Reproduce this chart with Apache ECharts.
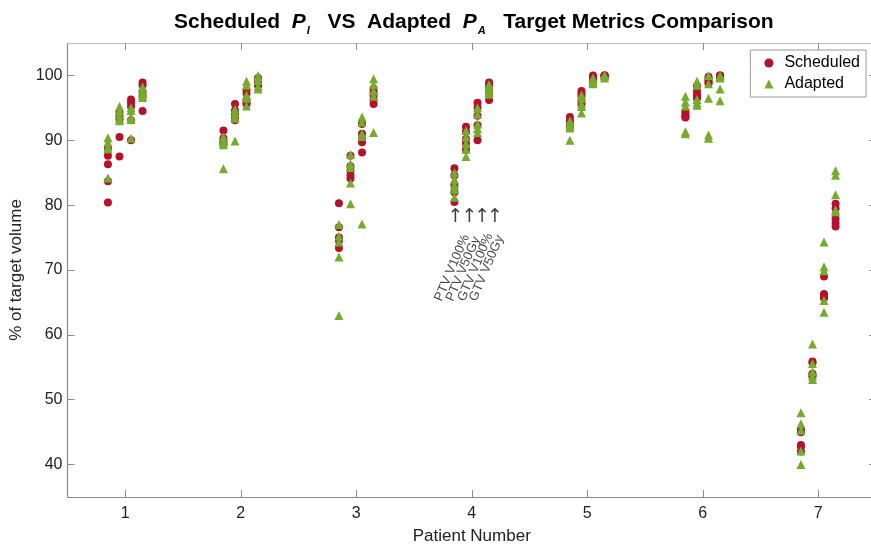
<!DOCTYPE html>
<html>
<head>
<meta charset="utf-8">
<script src="https://cdn.jsdelivr.net/npm/echarts@6/dist/echarts.min.js"></script>
<style>
html,body{margin:0;padding:0;background:#fff;}
#chart{width:871px;height:546px;}
</style>
</head>
<body>
<div id="chart"></div>
<script>
// ---- Data ----
const patients = [1, 2, 3, 4, 5, 6, 7];
const metricNames = ['PTV V100%', 'PTV V50Gy', 'GTV V100%', 'GTV V50Gy'];
const metricOffsets = [-0.15, -0.05, 0.05, 0.15];
const yTicks = [40, 50, 60, 70, 80, 90, 100];

// rows = patients 1..7, values = fractions
const scheduledPTV100 = [
  [88.8, 87.6, 86.3, 83.7, 80.4],
  [91.5, 90.3, 89.9, 89.6, 89.4],
  [80.3, 76.6, 75.0, 74.5, 73.4],
  [85.7, 84.6, 83.0, 82.0, 80.5],
  [93.6, 93.0, 92.7, 92.4, 92.1],
  [94.5, 94.2, 93.9, 93.6, 93.5],
  [45.5, 45.0, 43.0, 42.8, 42.0]
];
const adaptedPTV100 = [
  [90.4, 89.7, 89.0, 88.7, 84.2],
  [90.5, 90.0, 89.7, 89.3, 85.6],
  [77.0, 75.2, 74.3, 72.0, 63.0],
  [85.0, 84.0, 83.1, 82.4, 81.2],
  [93.0, 92.6, 92.2, 91.9, 90.0],
  [96.8, 95.9, 95.3, 91.3, 91.0],
  [48.0, 46.3, 45.3, 42.1, 40.0]
];
const scheduledPTV50 = [
  [94.3, 93.6, 93.2, 90.5, 87.5],
  [95.6, 94.6, 94.0, 93.5, 93.1],
  [87.6, 86.0, 85.3, 84.6, 84.1],
  [92.1, 91.3, 90.2, 89.5, 88.5],
  [97.6, 97.2, 96.8, 96.0, 95.5],
  [98.4, 97.6, 97.0, 96.9, 96.5],
  [55.9, 55.7, 54.0, 53.8, 53.5]
];
const adaptedPTV50 = [
  [95.2, 94.6, 93.9, 93.3, 93.0],
  [94.8, 94.2, 93.7, 93.4, 89.9],
  [87.8, 86.4, 85.8, 83.4, 80.2],
  [91.5, 90.5, 89.5, 88.6, 87.5],
  [97.0, 96.5, 95.6, 95.2, 94.2],
  [99.1, 98.5, 96.3, 95.8, 95.4],
  [58.6, 55.6, 54.3, 53.6, 53.1]
];
const scheduledGTV100 = [
  [96.3, 95.8, 95.2, 93.1, 90.0],
  [97.8, 97.2, 96.2, 95.8, 95.6],
  [92.5, 91.0, 90.3, 89.7, 88.1],
  [95.8, 95.0, 93.8, 92.3, 90.0],
  [100.0, 99.8, 99.6, 99.2, 99.0],
  [99.8, 99.5, 99.2, 98.9, 98.7],
  [69.0, 66.3, 65.9, 66.0, 65.7]
];
const adaptedGTV100 = [
  [95.0, 94.6, 93.6, 93.2, 90.3],
  [99.1, 98.5, 97.0, 96.5, 95.3],
  [93.6, 92.8, 91.0, 90.6, 77.1],
  [95.0, 94.0, 92.5, 91.8, 91.2],
  [99.6, 99.3, 99.0, 98.8, 98.7],
  [100.0, 98.7, 96.5, 90.8, 90.3],
  [74.3, 70.5, 69.9, 65.3, 63.5]
];
const scheduledGTV50 = [
  [98.9, 98.5, 97.5, 96.8, 94.5],
  [99.6, 99.3, 98.9, 98.6, 98.4],
  [98.0, 97.4, 96.9, 96.3, 95.6],
  [98.9, 98.5, 98.0, 97.3, 96.2],
  [100.0, 100.0, 100.0, 99.9, 99.8],
  [100.0, 100.0, 99.9, 99.8, 99.7],
  [80.2, 79.5, 77.9, 77.3, 76.7]
];
const adaptedGTV50 = [
  [98.2, 97.7, 97.2, 96.9, 96.6],
  [100.0, 99.7, 99.2, 98.3, 97.9],
  [99.5, 98.6, 97.6, 96.8, 91.2],
  [98.6, 98.2, 97.8, 97.4, 97.1],
  [100.0, 100.0, 100.0, 99.9, 99.6],
  [100.0, 99.8, 99.6, 97.9, 96.1],
  [85.3, 84.6, 81.6, 79.3, 79.0]
];

// Annotation (patient 4): arrow positions and rotated label starts, in data units
const arrowX = [3.86, 3.98, 4.09, 4.2];
const arrowY = 78.1;
const labelX = [3.71, 3.81, 3.91, 4.01];
const labelY = 65.3;

// ---- Build points ----
function buildPoints(metricArrays) {
  const pts = [];
  metricArrays.forEach((arr, m) => {
    arr.forEach((vals, p) => {
      vals.forEach(v => pts.push([patients[p] + metricOffsets[m], v]));
    });
  });
  return pts;
}
const scheduledPts = buildPoints([scheduledPTV100, scheduledPTV50, scheduledGTV100, scheduledGTV50]);
const adaptedPts = buildPoints([adaptedPTV100, adaptedPTV50, adaptedGTV100, adaptedGTV50]);

const RED = '#B4122C';
const GREEN = '#76AB2F';
const AXIS = '#8c8c8c';
const TXT = '#222';
const FONT = 'Liberation Sans, Arial, Helvetica, sans-serif';

const chart = echarts.init(document.getElementById('chart'), null, {renderer: 'canvas'});
chart.setOption({
  animation: false,
  backgroundColor: '#fff',
  textStyle: {fontFamily: FONT},
  title: {
    text: 'Scheduled  {p|P}{s|I}   VS  Adapted  {p|P}{s|A}   Target Metrics Comparison',
    left: 169, top: 4,
    textStyle: {
      fontFamily: FONT, fontSize: 21, fontWeight: 'bold', color: '#000',
      rich: {
        p: {fontFamily: FONT, fontSize: 21, fontWeight: 'bold', fontStyle: 'italic', color: '#000'},
        s: {fontFamily: FONT, fontSize: 11, fontWeight: 'bold', fontStyle: 'italic', color: '#000', padding: [16, 0, 0, 1]}
      }
    }
  },
  legend: {
    right: 5, top: 50,
    orient: 'vertical',
    borderColor: '#9a9a9a', borderWidth: 1, borderRadius: 0,
    padding: [5, 6, 5, 14],
    itemGap: 5,
    itemWidth: 9, itemHeight: 9,
    textStyle: {fontFamily: FONT, fontSize: 16, color: '#000', padding: [0, 0, 0, 6]},
    data: [{name: 'Scheduled', icon: 'circle'}, {name: 'Adapted', icon: 'triangle'}]
  },
  grid: {left: 67.5, right: -5, top: 43, bottom: 49, containLabel: false, outerBoundsMode: 'none'},
  xAxis: [{
    type: 'value', min: 0.5, max: 7.5, interval: 1,
    position: 'bottom',
    axisLine: {lineStyle: {color: AXIS, width: 1.2}},
    axisTick: {inside: true, length: 7, lineStyle: {color: AXIS}, customValues: patients},
    axisLabel: {customValues: patients, fontSize: 16, color: TXT, margin: 9, fontFamily: FONT},
    splitLine: {show: false},
    name: 'Patient Number', nameLocation: 'middle', nameGap: 31,
    nameTextStyle: {fontSize: 17, color: TXT, fontFamily: FONT}
  }, {
    type: 'value', min: 0.5, max: 7.5,
    position: 'top',
    axisLine: {lineStyle: {color: '#bdbdbd', width: 1}},
    axisTick: {inside: true, length: 7, lineStyle: {color: AXIS}, customValues: patients},
    axisLabel: {show: false},
    splitLine: {show: false}
  }],
  yAxis: [{
    type: 'value', min: 35, max: 105,
    axisLine: {show: true, lineStyle: {color: AXIS, width: 1.2}},
    axisTick: {show: true, inside: true, length: 7, lineStyle: {color: AXIS}, customValues: yTicks},
    axisLabel: {customValues: yTicks, fontSize: 16, color: TXT, margin: 5, fontFamily: FONT},
    splitLine: {show: false},
    name: '% of target volume', nameLocation: 'middle', nameGap: 40,
    nameTextStyle: {fontSize: 17, color: TXT, fontFamily: FONT}
  }, {
    type: 'value', min: 35, max: 105, position: 'right',
    axisLine: {show: true, lineStyle: {color: '#bdbdbd'}},
    axisTick: {show: true, inside: true, length: 7, lineStyle: {color: AXIS}, customValues: yTicks},
    axisLabel: {show: false},
    splitLine: {show: false}
  }],
  series: [{
    name: 'Scheduled', type: 'scatter', symbol: 'circle', symbolSize: 8,
    itemStyle: {color: RED, opacity: 1},
    data: scheduledPts, z: 2
  }, {
    name: 'Adapted', type: 'scatter', symbol: 'triangle', symbolSize: 9,
    itemStyle: {color: GREEN, opacity: 1},
    data: adaptedPts, z: 3
  }, {
    name: 'arrows', type: 'scatter', symbol: 'circle', symbolSize: 1, silent: true,
    itemStyle: {color: 'rgba(0,0,0,0)'},
    data: arrowX.map(x => [x, arrowY]),
    label: {show: true, position: 'inside', formatter: '\u2191', fontSize: 19, color: '#111', fontFamily: 'DejaVu Sans'},
    z: 4
  }, {
    name: 'metricLabels', type: 'scatter', symbol: 'circle', symbolSize: 1, silent: true,
    itemStyle: {color: 'rgba(0,0,0,0)'},
    data: labelX.map((x, i) => ({value: [x, labelY], name: metricNames[i]})),
    label: {
      show: true, position: 'inside', formatter: p => p.name,
      rotate: 67, align: 'left', verticalAlign: 'middle',
      fontSize: 13, color: '#111', fontFamily: FONT
    },
    z: 4
  }]
});
</script>
</body>
</html>
